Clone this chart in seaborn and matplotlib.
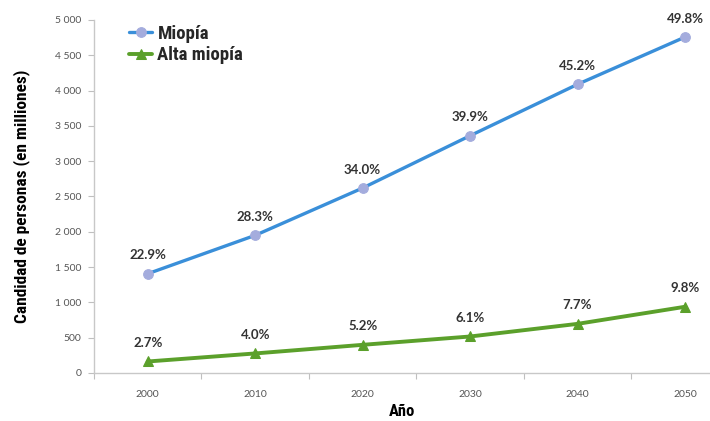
import numpy as np
import pandas as pd
import matplotlib
matplotlib.use("Agg")
import matplotlib.pyplot as plt
from matplotlib import font_manager
import seaborn as sns

# Data (millions of people) and prevalence labels
years = [2000, 2010, 2020, 2030, 2040, 2050]
miopia = [1406, 1950, 2620, 3361, 4089, 4758]
alta_miopia = [163, 277, 399, 517, 696, 938]
miopia_pct = ["22.9%", "28.3%", "34.0%", "39.9%", "45.2%", "49.8%"]
alta_pct = ["2.7%", "4.0%", "5.2%", "6.1%", "7.7%", "9.8%"]
y_ticks = [0, 500, 1000, 1500, 2000, 2500, 3000, 3500, 4000, 4500, 5000]

sns.set_theme(style="white")
plt.rcParams["font.family"] = ["Lato", "DejaVu Sans"]

# pick a narrow bold face for titles and legend if one is available
names = {f.name for f in font_manager.fontManager.ttflist}
cond_font = None
for cand in ["Liberation Sans Narrow", "DejaVu Sans Condensed", "Roboto Condensed"]:
    if cand in names:
        cond_font = cand
        break
if cond_font is None:
    cond_kw = {"family": ["DejaVu Sans"], "stretch": "condensed"}
else:
    cond_kw = {"family": [cond_font, "DejaVu Sans"], "stretch": "condensed"}

pos = np.arange(len(years))
df = pd.DataFrame({
    "pos": np.concatenate([pos, pos]),
    "valor": miopia + alta_miopia,
    "serie": ["Miopía"] * len(years) + ["Alta miopía"] * len(years),
})

fig = plt.figure(figsize=(7.1, 4.21), dpi=100)
ax = fig.add_axes([94 / 710, 48 / 421, 1 - 94 / 710, 353 / 421])

blue = "#3a8fd9"
green = "#5ba02b"
sns.lineplot(data=df[df.serie == "Miopía"], x="pos", y="valor", ax=ax,
             color=blue, lw=2.4, marker="o", markersize=7,
             markerfacecolor="#a4acdd", markeredgecolor="#a4acdd",
             label="Miopía")
sns.lineplot(data=df[df.serie == "Alta miopía"], x="pos", y="valor", ax=ax,
             color=green, lw=2.8, marker="^", markersize=7,
             markerfacecolor=green, markeredgecolor=green,
             label="Alta miopía")

for x, v, t in zip(pos, miopia, miopia_pct):
    ax.annotate(t, (x, v), xytext=(0, 9), textcoords="offset points",
                ha="center", va="bottom", fontsize=9.5, fontweight="bold",
                color="#333333")
for x, v, t in zip(pos, alta_miopia, alta_pct):
    ax.annotate(t, (x, v), xytext=(0, 9), textcoords="offset points",
                ha="center", va="bottom", fontsize=9.5, fontweight="bold",
                color="#333333")

ax.set_xlim(-0.5, 5 + 25 / 107.4)
ax.set_ylim(0, 5000)
ax.set_xticks(pos)
ax.set_xticklabels([str(y) for y in years], fontsize=7.5, color="#555555")
ax.set_xticks(np.arange(-0.5, 5.5, 1.0), minor=True)
ax.tick_params(axis="x", which="major", length=0, pad=12)
ax.tick_params(axis="x", which="minor", length=4, width=0.8,
               color="#bfbfbf", direction="out", bottom=True)
ax.set_yticks(y_ticks)
ax.set_yticklabels([f"{v:,}".replace(",", " ") for v in y_ticks],
                   fontsize=7.5, color="#555555")
ax.tick_params(axis="y", length=4, width=0.8, color="#bfbfbf",
               direction="out", left=True, pad=5)

for s in ["top", "right"]:
    ax.spines[s].set_visible(False)
for s in ["left", "bottom"]:
    ax.spines[s].set_color("#c8c8c8")
    ax.spines[s].set_linewidth(1.0)

ax.set_xlabel("Año", fontweight="bold", fontsize=12, color="black",
              labelpad=4, **cond_kw)
ax.set_ylabel("Candidad de personas (en milliones)", fontweight="bold",
              fontsize=12.5, color="black", labelpad=18, **cond_kw)

leg = ax.legend(loc="upper left", bbox_to_anchor=(0.036, 1.024), frameon=False,
                handlelength=1.2, handletextpad=0.3, labelspacing=0.2,
                borderaxespad=0.3,
                prop={**cond_kw, "weight": "bold", "size": 13.5})

fig.savefig("out.png", dpi=100)
